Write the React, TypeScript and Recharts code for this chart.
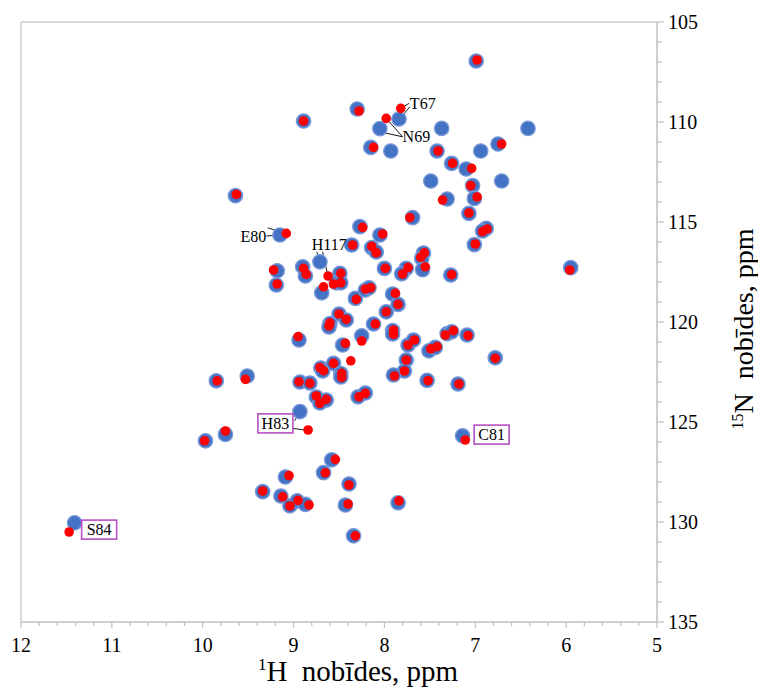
import React from 'react';
import { ScatterChart, Scatter, XAxis, YAxis, ReferenceLine } from 'recharts';

// 1H (ppm) and 15N (ppm) of the blue (reference) spectrum peaks
const blueH = [6.99,8.30,8.89,7.84,8.05,8.15,7.93,7.37,6.42,7.42,
  6.94,6.75,7.26,7.10,7.49,6.71,7.03,7.01,7.31,7.07,
  7.69,9.64,8.27,8.05,9.15,6.88,6.92,7.01,5.95,7.27,
  7.57,7.59,7.58,7.76,7.81,8.00,8.36,8.14,8.09,9.18,
  9.19,8.90,8.87,8.71,8.49,8.53,8.48,8.69,8.32,8.21,
  8.17,7.91,7.85,7.98,8.50,8.42,8.60,8.61,8.12,7.91,
  7.91,8.25,8.46,8.94,7.74,7.68,7.76,7.78,7.90,7.51,
  7.44,7.31,7.26,7.09,7.53,7.19,6.78,9.51,9.85,8.70,
  8.68,8.56,8.48,8.48,8.93,8.82,8.75,8.71,8.64,8.29,
  8.21,8.93,9.75,9.97,8.58,8.67,9.09,9.34,9.14,9.04,
  8.96,8.87,8.39,8.43,7.85,8.34,7.14,11.41];
const blueN = [106.95,109.35,109.95,109.85,110.33,111.27,111.45,110.32,110.32,111.45,
  111.45,111.1,112.07,112.35,112.95,112.95,113.18,113.82,113.85,114.57,
  114.78,113.68,115.23,115.65,115.65,115.32,115.45,116.13,117.28,117.65,
  116.55,116.82,117.38,117.32,117.59,117.32,116.15,116.28,116.5,117.44,
  118.15,117.24,117.7,116.99,117.57,118.04,118.04,118.54,118.82,118.4,
  118.29,118.6,119.12,119.49,119.6,119.9,120.08,120.25,120.1,120.43,
  120.6,120.69,121.15,120.9,121.15,120.9,121.9,122.45,122.65,121.44,
  121.27,120.58,120.49,120.65,122.92,123.1,121.79,122.7,122.94,122.3,
  122.45,122.07,122.58,122.75,123.0,123.05,123.75,124.05,123.9,123.74,
  123.55,124.48,125.62,125.94,126.89,127.53,127.75,128.48,128.7,129.19,
  128.94,129.12,128.1,129.15,129.04,130.69,125.69,130.04];

// red (second) spectrum peaks
const redH = [6.98,8.28,8.89,7.82,7.98,8.12,7.41,6.71,7.25,7.04,
  7.05,6.98,7.36,7.07,7.72,9.63,8.24,8.02,9.08,6.87,
  6.92,7.00,5.96,7.26,7.56,7.60,7.55,7.74,7.80,7.99,
  8.35,8.14,8.09,9.22,9.18,8.89,8.86,8.62,8.48,8.56,
  8.48,8.67,8.31,8.21,8.15,7.88,7.85,7.98,8.50,8.42,
  8.60,8.61,8.10,7.90,7.90,8.25,8.43,8.95,7.74,7.67,
  7.76,7.78,7.89,7.49,7.42,7.33,7.24,7.08,7.52,7.18,
  6.78,9.53,9.84,8.71,8.67,8.56,8.47,8.47,8.94,8.82,
  8.75,8.71,8.64,8.28,8.21,8.84,9.75,9.98,8.54,8.65,
  9.05,9.34,9.12,9.04,8.95,8.83,8.39,8.40,7.84,8.32,
  7.11,11.47,8.37];
const redN = [106.9,109.45,109.95,109.32,109.82,111.27,111.45,111.1,112.07,112.32,
  113.18,113.75,113.9,114.55,114.78,113.62,115.27,115.6,115.57,115.35,
  115.48,116.1,117.4,117.63,116.54,116.77,117.24,117.28,117.6,117.32,
  116.15,116.22,116.54,117.4,118.1,117.32,117.62,117.7,117.57,118.1,
  118.04,118.24,118.87,118.35,118.29,118.57,119.12,119.49,119.6,119.87,
  120.04,120.2,120.1,120.4,120.62,120.95,121.07,120.73,121.15,120.9,
  121.9,122.45,122.7,121.34,121.23,120.65,120.43,120.68,122.93,123.1,
  121.82,122.87,122.94,122.28,122.43,122.07,122.57,122.77,122.99,123.07,
  123.7,124.07,123.87,123.74,123.57,125.4,125.45,125.94,126.87,127.54,
  127.68,128.45,128.74,129.2,128.92,129.15,128.15,129.1,128.94,130.69,
  125.9,130.5,121.94];

// residue annotations (label anchor in data coordinates)
const annNames = ['T67', 'N69', 'E80', 'H117', 'H83', 'C81', 'S84'];
const annH = [7.72, 7.80, 9.30, 8.80, 9.20, 6.82, 11.14];
const annN = [109.05, 110.7, 115.7, 116.1, 125.07, 125.63, 130.38];
const annAnchor = ['start', 'start', 'end', 'start', 'middle', 'middle', 'middle'];
const annBoxed = [false, false, false, false, true, true, true];

// leader lines [H1, N1, H2, N2]
const leaders = [
  [7.73, 109.07, 7.82, 109.32],
  [7.72, 109.24, 7.85, 109.95],
  [7.80, 110.74, 7.98, 109.82],
  [7.80, 110.74, 8.05, 110.49],
  [9.30, 115.7, 9.15, 115.65],
  [9.285, 115.29, 9.07, 115.6],
  [8.745, 116.49, 8.71, 116.9],
  [8.68, 116.49, 8.62, 117.74],
  [8.99, 124.94, 8.94, 124.6],
  [9.01, 125.32, 8.82, 125.43],
];

const xMajor = [5, 6, 7, 8, 9, 10, 11, 12];
const yMajor = [105, 110, 115, 120, 125, 130, 135];

const xTicks: number[] = [];
for (let i = 0; i <= 35; i++) xTicks.push(Math.round((5 + i * 0.2) * 10) / 10);
const yTicks: number[] = [];
for (let i = 105; i <= 135; i++) yTicks.push(i);

const blueData = blueH.map((h, i) => ({ h, n: blueN[i] }));
const redData = redH.map((h, i) => ({ h, n: redN[i] }));
const annData = annNames.map((name, i) => ({ h: annH[i], n: annN[i], name, anchor: annAnchor[i], boxed: annBoxed[i] }));

const FONT = '"Liberation Serif", "Times New Roman", serif';
const AXIS = '#BFBFBF';

const XTick = (props: any) => {
  const { x, y, payload } = props;
  const v = payload.value;
  const major = xMajor.some((m) => Math.abs(m - v) < 1e-6);
  return (
    <g>
      <line x1={x} x2={x} y1={y} y2={y + (major ? 6 : 4)} stroke={AXIS} strokeWidth={1.2} />
      {major && (
        <text x={x} y={y + 30} textAnchor="middle" fontFamily={FONT} fontSize={20} fill="#000">
          {Math.round(v)}
        </text>
      )}
    </g>
  );
};

const YTick = (props: any) => {
  const { x, y, payload } = props;
  const v = payload.value;
  const major = yMajor.includes(v);
  return (
    <g>
      <line x1={x} x2={x + (major ? 7 : 5)} y1={y} y2={y} stroke={AXIS} strokeWidth={1.2} />
      {major && (
        <text x={x + 11} y={y + 7} textAnchor="start" fontFamily={FONT} fontSize={20} fill="#000">
          {v}
        </text>
      )}
    </g>
  );
};

const BlueDot = (props: any) => {
  const { cx, cy } = props;
  return <circle cx={cx} cy={cy} r={7.2} fill="#4472C4" stroke="#7B9BD8" strokeWidth={1.3} />;
};

const RedDot = (props: any) => {
  const { cx, cy } = props;
  return <circle cx={cx} cy={cy} r={4.8} fill="#FF0000" />;
};

const AnnShape = (props: any) => {
  const { cx, cy, payload } = props;
  if (payload.boxed) {
    const w = 35;
    const h = 19;
    return (
      <g>
        <rect x={cx - w / 2} y={cy - h / 2} width={w} height={h} fill="#fff" stroke="#B84FC4" strokeWidth={1.6} />
        <text x={cx} y={cy + 5.5} textAnchor="middle" fontFamily={FONT} fontSize={16} fill="#000">
          {payload.name}
        </text>
      </g>
    );
  }
  return (
    <text x={cx} y={cy + 5.5} textAnchor={payload.anchor} fontFamily={FONT} fontSize={16} fill="#000">
      {payload.name}
    </text>
  );
};

export default function App() {
  return (
    <div style={{ position: 'relative', width: 758, height: 683, background: '#fff' }}>
      <ScatterChart width={758} height={683} margin={{ top: 14, right: 49, bottom: 39, left: 13 }}>
        <XAxis
          type="number"
          dataKey="h"
          domain={[5, 12]}
          reversed
          allowDataOverflow
          ticks={xTicks}
          interval={0}
          tickSize={0}
          tickMargin={0}
          tickLine={false}
          tick={<XTick />}
          axisLine={{ stroke: AXIS, strokeWidth: 1.5 }}
          height={30}
        />
        <YAxis
          type="number"
          dataKey="n"
          orientation="right"
          domain={[105, 135]}
          reversed
          allowDataOverflow
          ticks={yTicks}
          interval={0}
          tickSize={0}
          tickMargin={0}
          tickLine={false}
          tick={<YTick />}
          axisLine={{ stroke: AXIS, strokeWidth: 1.5 }}
          width={60}
        />
        <ReferenceLine x={12} stroke="#D9D9D9" strokeWidth={2} />
        <ReferenceLine y={105} stroke="#D9D9D9" strokeWidth={2} />
        <Scatter data={blueData} shape={BlueDot} isAnimationActive={false} />
        <Scatter data={redData} shape={RedDot} isAnimationActive={false} />
        {leaders.map((s, i) => (
          <ReferenceLine
            key={i}
            segment={[{ x: s[0], y: s[1] }, { x: s[2], y: s[3] }]}
            stroke="#000"
            strokeWidth={0.9}
            ifOverflow="visible"
          />
        ))}
        <Scatter data={annData} shape={AnnShape} isAnimationActive={false} />
      </ScatterChart>
      <div
        style={{
          position: 'absolute',
          left: 150,
          width: 400,
          top: 647,
          textAlign: 'center',
          fontFamily: FONT,
          fontSize: 29,
          lineHeight: '32px',
          whiteSpace: 'pre',
          color: '#000',
        }}
      >
        <sup style={{ fontSize: 17, lineHeight: 0 }}>1</sup>H  nobīdes, ppm
      </div>
      <div
        style={{
          position: 'absolute',
          left: 536,
          width: 400,
          top: 305,
          height: 32,
          textAlign: 'center',
          fontFamily: FONT,
          fontSize: 28,
          lineHeight: '32px',
          whiteSpace: 'pre',
          color: '#000',
          transform: 'rotate(-90deg)',
        }}
      >
        <sup style={{ fontSize: 16, lineHeight: 0 }}>15</sup>N  nobīdes, ppm
      </div>
    </div>
  );
}
